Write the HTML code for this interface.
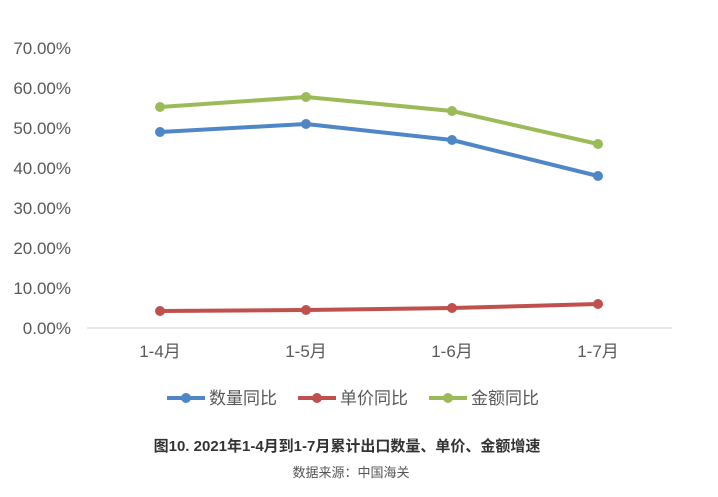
<!DOCTYPE html>
<html><head><meta charset="utf-8"><style>
body{margin:0;background:#fff;}
svg text{font-family:"Liberation Sans","Noto Sans CJK SC",sans-serif;}
</style></head><body>
<svg width="718" height="492" viewBox="0 0 718 492" xmlns="http://www.w3.org/2000/svg">
<rect width="718" height="492" fill="#fff"/>
<g fill="#595959" font-size="17" text-anchor="end">
<text x="71" y="54">70.00%</text>
<text x="71" y="94">60.00%</text>
<text x="71" y="134">50.00%</text>
<text x="71" y="174">40.00%</text>
<text x="71" y="214">30.00%</text>
<text x="71" y="254">20.00%</text>
<text x="71" y="294">10.00%</text>
<text x="71" y="334">0.00%</text>
</g>
<line x1="87" y1="328" x2="672" y2="328" stroke="#d9d9d9" stroke-width="1.2"/>
<g fill="#595959" font-size="17" text-anchor="middle">
<text x="160" y="357">1-4月</text>
<text x="306" y="357">1-5月</text>
<text x="452" y="357">1-6月</text>
<text x="598" y="357">1-7月</text>
</g>
<g fill="none" stroke-width="4" stroke-linejoin="round">
<polyline stroke="#9bbb59" points="160,107 306,97 452,111 598,144"/>
<polyline stroke="#4f86c6" points="160,132 306,124 452,140 598,176"/>
<polyline stroke="#c0504d" points="160,311 306,310 452,308 598,304"/>
</g>
<g fill="#9bbb59"><circle cx="160" cy="107" r="5"/><circle cx="306" cy="97" r="5"/><circle cx="452" cy="111" r="5"/><circle cx="598" cy="144" r="5"/></g>
<g fill="#4f86c6"><circle cx="160" cy="132" r="5"/><circle cx="306" cy="124" r="5"/><circle cx="452" cy="140" r="5"/><circle cx="598" cy="176" r="5"/></g>
<g fill="#c0504d"><circle cx="160" cy="311" r="5"/><circle cx="306" cy="310" r="5"/><circle cx="452" cy="308" r="5"/><circle cx="598" cy="304" r="5"/></g>
<g stroke-width="4">
<line x1="167" y1="398" x2="205" y2="398" stroke="#4f86c6"/><circle cx="186" cy="398" r="5" fill="#4f86c6"/>
<line x1="298" y1="398" x2="336" y2="398" stroke="#c0504d"/><circle cx="317" cy="398" r="5" fill="#c0504d"/>
<line x1="429" y1="398" x2="467" y2="398" stroke="#9bbb59"/><circle cx="448" cy="398" r="5" fill="#9bbb59"/>
</g>
<g fill="#595959" font-size="17">
<text x="209" y="404">数量同比</text>
<text x="340" y="404">单价同比</text>
<text x="471" y="404">金额同比</text>
</g>
<text x="347" y="451" font-size="15" font-weight="bold" fill="#333" text-anchor="middle">图10. 2021年1-4月到1-7月累计出口数量、单价、金额增速</text>
<text x="351" y="477" font-size="13" fill="#555" text-anchor="middle">数据来源：中国海关</text>
</svg>
</body></html>
